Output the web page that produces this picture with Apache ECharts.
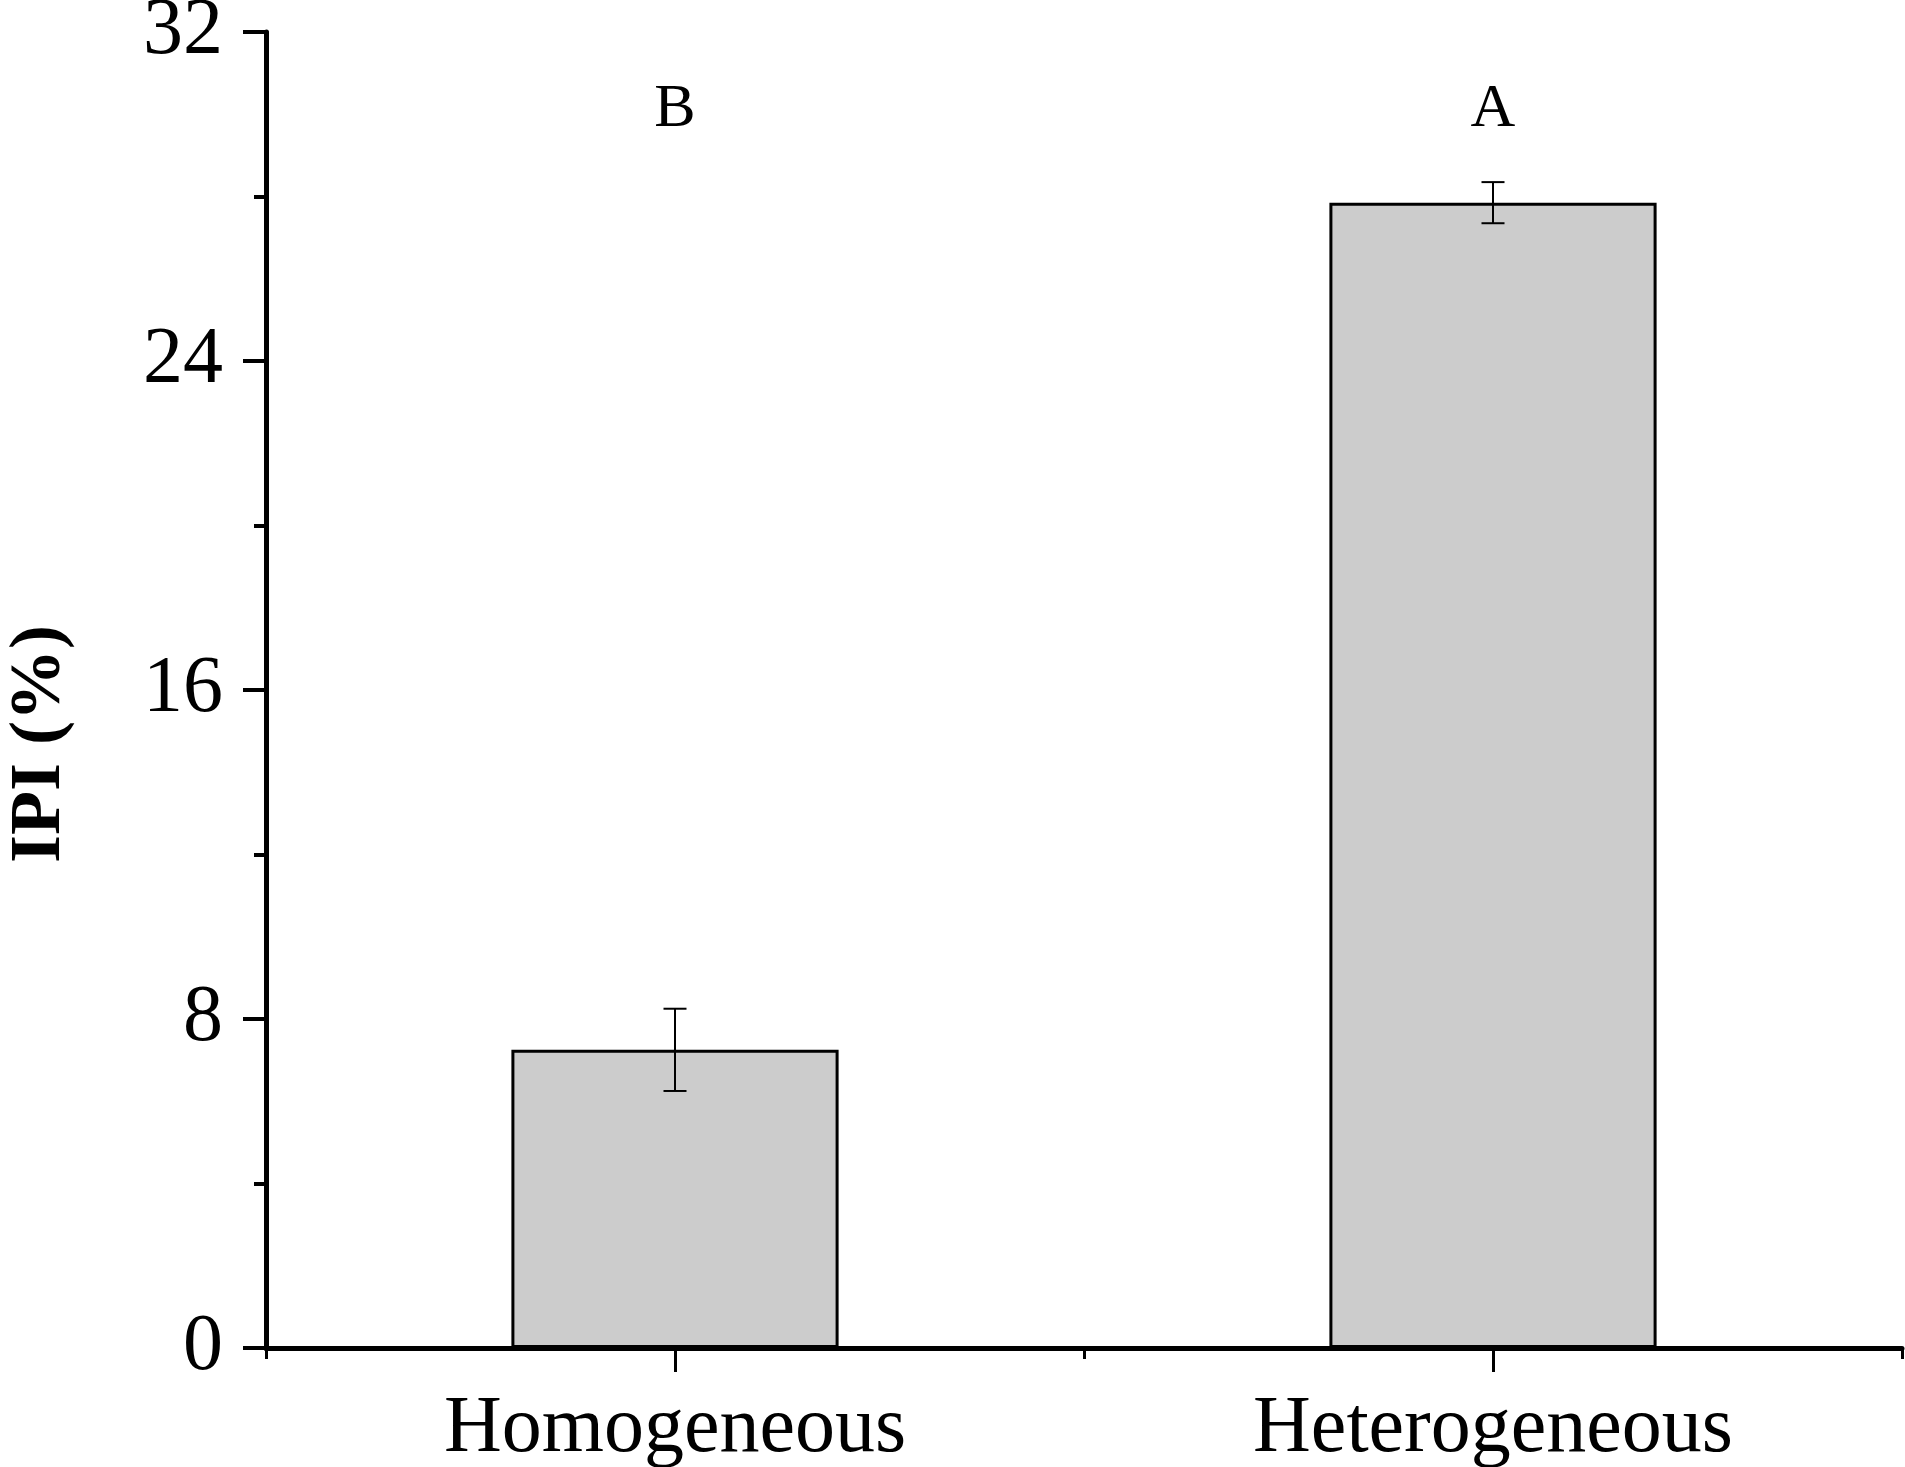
<!DOCTYPE html>
<html>
<head>
<meta charset="utf-8">
<script src="https://cdn.jsdelivr.net/npm/echarts@6/dist/echarts.min.js"></script>
<style>
    html, body { margin: 0; padding: 0; background: #fff; }
    #main { width: 1905px; height: 1467px; }
</style>
</head>
<body>
<div id="main"></div>
<script>
// data
var categories = ['Homogeneous', 'Heterogeneous'];
var ipiMean = [7.25, 27.85];
var ipiErr = [1.0, 0.5];
var groupLetters = ['B', 'A'];
var letterLevel = [30.1, 30.1];
var yTicks = [0, 8, 16, 24, 32];

var myChart = echarts.init(document.getElementById('main'));
var font = '"Liberation Serif", "Times New Roman", serif';

// error bar rows: [category index, low, high]
var errData = [];
for (var i = 0; i < categories.length; i++) {
    errData.push([i, ipiMean[i] - ipiErr[i], ipiMean[i] + ipiErr[i]]);
}
var letterData = [];
for (var j = 0; j < categories.length; j++) {
    letterData.push([j, letterLevel[j], groupLetters[j]]);
}

var option = {
    backgroundColor: '#fff',
    animation: false,
    grid: {
        left: 266,
        right: 3,
        top: 32,
        bottom: 119,
        outerBoundsMode: 'none',
        containLabel: false
    },
    xAxis: [{
        type: 'category',
        data: categories,
        axisLine: { show: true, lineStyle: { color: '#000', width: 5 } },
        axisTick: { show: true, alignWithLabel: true, length: 24, lineStyle: { color: '#000', width: 3 } },
        axisLabel: { color: '#000', fontFamily: font, fontSize: 80, margin: 42 }
    }, {
        // short ticks on the category boundaries
        type: 'category',
        data: categories,
        position: 'bottom',
        axisLine: { show: false },
        axisTick: { show: true, interval: 0, length: 11, lineStyle: { color: '#000', width: 3 } },
        axisLabel: { show: false }
    }],
    yAxis: {
        type: 'value',
        min: yTicks[0],
        max: yTicks[yTicks.length - 1],
        interval: 8,
        name: 'IPI (%)',
        nameLocation: 'middle',
        nameGap: 190,
        nameTextStyle: { color: '#000', fontFamily: font, fontSize: 72, fontWeight: 'bold', padding: [0, 108, 0, 0] },
        axisLine: { show: true, lineStyle: { color: '#000', width: 5 } },
        axisTick: { show: true, length: 23, lineStyle: { color: '#000', width: 4 } },
        minorTick: { show: true, splitNumber: 2, length: 12, lineStyle: { color: '#000', width: 4 } },
        splitLine: { show: false },
        axisLabel: { color: '#000', fontFamily: font, fontSize: 80, margin: 43 }
    },
    series: [{
        type: 'bar',
        data: ipiMean,
        barWidth: '40%',
        itemStyle: { color: '#cccccc', borderColor: '#000', borderWidth: 3 }
    }, {
        type: 'custom',
        data: errData,
        z: 5,
        renderItem: function (params, api) {
            var lo = api.coord([api.value(0), api.value(1)]);
            var hi = api.coord([api.value(0), api.value(2)]);
            var half = 11.5;
            var st = { stroke: '#000', lineWidth: 2 };
            return {
                type: 'group',
                children: [
                    { type: 'line', shape: { x1: hi[0], y1: hi[1], x2: lo[0], y2: lo[1] }, style: st },
                    { type: 'line', shape: { x1: hi[0] - half, y1: hi[1], x2: hi[0] + half, y2: hi[1] }, style: st },
                    { type: 'line', shape: { x1: lo[0] - half, y1: lo[1], x2: lo[0] + half, y2: lo[1] }, style: st }
                ]
            };
        }
    }, {
        type: 'custom',
        data: letterData,
        renderItem: function (params, api) {
            var p = api.coord([api.value(0), api.value(1)]);
            return {
                type: 'text',
                x: p[0],
                y: p[1],
                style: {
                    text: letterData[params.dataIndex][2],
                    fill: '#000',
                    font: '62px ' + font,
                    align: 'center',
                    verticalAlign: 'middle'
                }
            };
        }
    }]
};

myChart.setOption(option);
</script>
</body>
</html>
